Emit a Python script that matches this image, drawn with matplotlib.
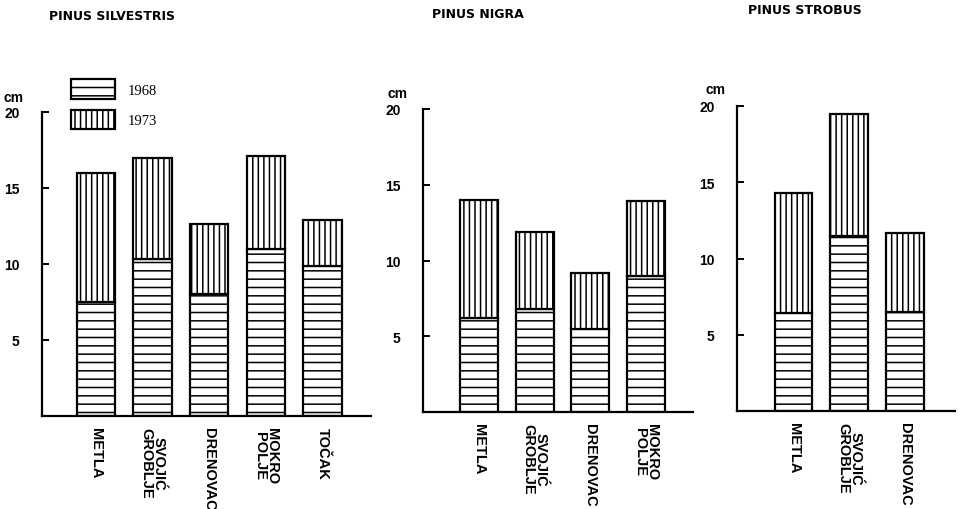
import matplotlib
matplotlib.use("Agg")
import matplotlib.pyplot as plt
from matplotlib.patches import Patch

# increment in cm
titles = ["PINUS SILVESTRIS", "PINUS NIGRA", "PINUS STROBUS"]

sites_silv = ["METLA", "SVOJIĆ\nGROBLJE", "DRENOVAC", "MOKRO\nPOLJE", "TOČAK"]
h1968_silv = [7.5, 10.3, 8.0, 11.0, 9.9]
h1973_silv = [16.0, 17.0, 12.6, 17.1, 12.9]

sites_nigra = ["METLA", "SVOJIĆ\nGROBLJE", "DRENOVAC", "MOKRO\nPOLJE"]
h1968_nigra = [6.2, 6.8, 5.5, 9.0]
h1973_nigra = [14.0, 11.9, 9.2, 13.9]

sites_strob = ["METLA", "SVOJIĆ\nGROBLJE", "DRENOVAC"]
h1968_strob = [6.4, 11.5, 6.5]
h1973_strob = [14.3, 19.5, 11.7]

yticks = [5, 10, 15, 20]

plt.rcParams["hatch.linewidth"] = 1.1
plt.rcParams["font.family"] = ["Liberation Sans", "DejaVu Sans"]

W, H = 963, 510
fig = plt.figure(figsize=(W / 100, H / 100), dpi=100)
fig.patch.set_facecolor("white")

# panel geometry in pixels: y axis x pos, first bar centre, bar spacing, x axis end, baseline, top(20)
panels = [
    (42, 96, 56.6, 371, 417, 113, sites_silv, h1968_silv, h1973_silv, (-28, 15)),
    (423, 479, 55.7, 693, 413, 110, sites_nigra, h1968_nigra, h1973_nigra, (-26, 16)),
    (737, 793.5, 55.7, 955, 412, 107, sites_strob, h1968_strob, h1973_strob, (-22, 17)),
]

for (x0, c0, dx, xend, ybase, ytop, sites, lo, hi, cm_off) in panels:
    ax = fig.add_axes([x0 / W, (H - ybase) / H, (xend - x0) / W, (ybase - ytop) / H])
    xs = list(range(len(sites)))
    hi_part = [b - a for a, b in zip(lo, hi)]
    ax.bar(xs, lo, width=0.68, color="white", edgecolor="black", linewidth=1.6, hatch="--")
    ax.bar(xs, hi_part, bottom=lo, width=0.68, color="white", edgecolor="black",
           linewidth=1.6, hatch="|||")
    ax.set_xlim((x0 - c0) / dx, (xend - c0) / dx)
    ax.set_ylim(0, 20)
    for s in ["top", "right"]:
        ax.spines[s].set_visible(False)
    for s in ["left", "bottom"]:
        ax.spines[s].set_linewidth(1.6)
    ax.set_yticks(yticks)
    ax.set_yticklabels([str(t) for t in yticks], fontsize=10, fontweight="bold")
    ax.tick_params(axis="y", direction="in", length=5, width=1.4, pad=16)
    ax.set_xticks(xs)
    ax.set_xticklabels(sites, rotation=270, fontsize=10.5, fontweight="bold",
                       linespacing=0.85, va="top", ha="center")
    ax.tick_params(axis="x", length=0, pad=8)
    ax.annotate("cm", xy=(0, 1), xycoords="axes fraction", xytext=cm_off,
                textcoords="offset pixels", ha="center", va="center",
                fontsize=10, fontweight="bold")

fig.text(112 / W, 1 - 16 / H, titles[0], ha="center", va="center", fontsize=9,
         fontweight="bold", family="DejaVu Sans")
fig.text(478 / W, 1 - 14 / H, titles[1], ha="center", va="center", fontsize=9,
         fontweight="bold", family="DejaVu Sans")
fig.text(805 / W, 1 - 10 / H, titles[2], ha="center", va="center", fontsize=9,
         fontweight="bold", family="DejaVu Sans")

handles = [Patch(facecolor="white", edgecolor="black", hatch="--", linewidth=1.6),
           Patch(facecolor="white", edgecolor="black", hatch="|||", linewidth=1.6)]
fig.legend(handles, ["1968", "1973"], loc="upper left",
           bbox_to_anchor=(58 / W, 1 - 67 / H), frameon=False,
           handlelength=3.0, handleheight=1.7, labelspacing=0.75, handletextpad=0.9,
           prop={"family": "Liberation Serif", "size": 10.5})

fig.savefig("out.png", dpi=100, facecolor="white")
